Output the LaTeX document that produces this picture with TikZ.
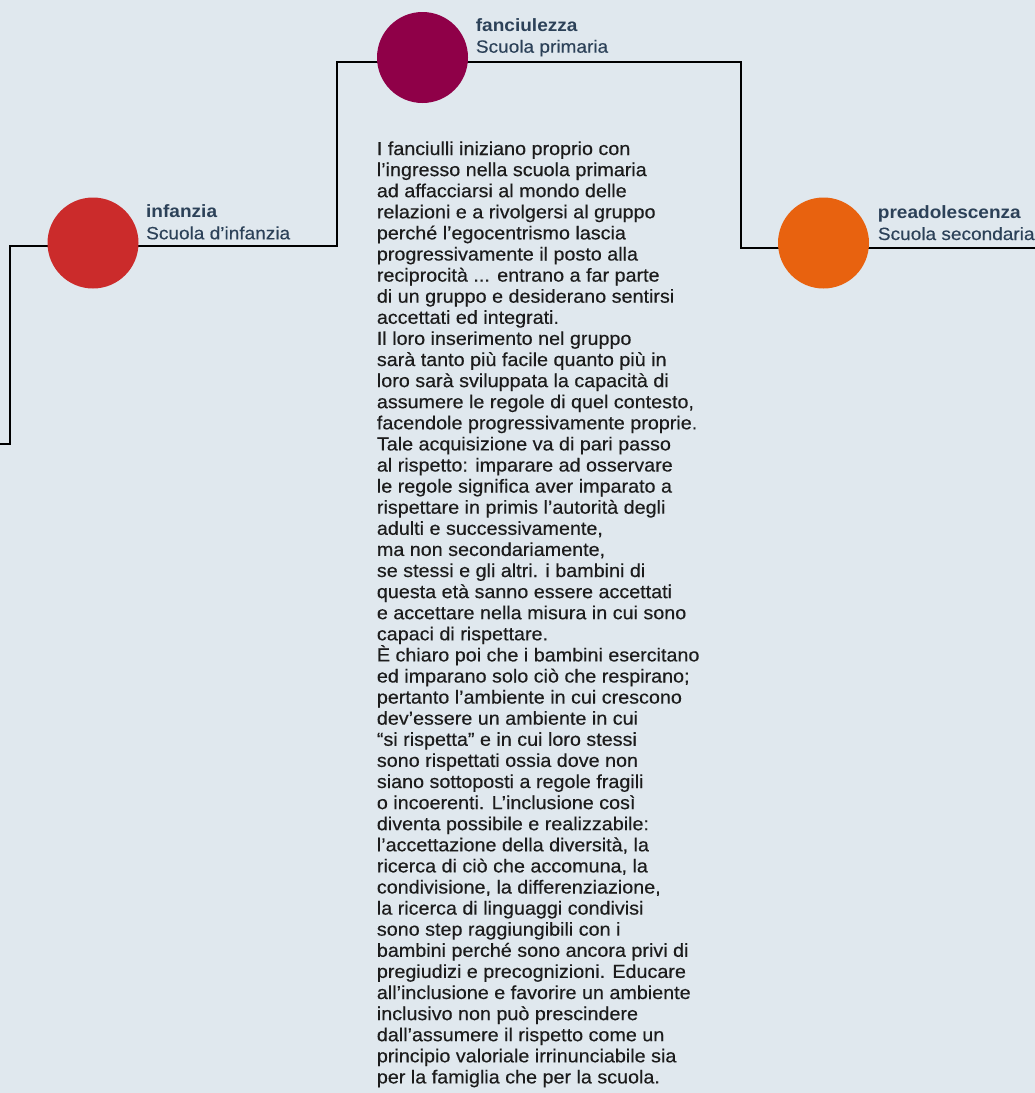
\documentclass[tikz,border=0pt]{standalone}
\usepackage{fontspec}
\setmainfont{Liberation Sans}[FakeStretch=1.05,UprightFeatures={FakeBold=0.35}]
\newfontfamily\labfont{Liberation Sans}[FakeStretch=1.07,UprightFeatures={FakeBold=0.35}]
\definecolor{bg}{HTML}{E0E8EE}
\definecolor{cred}{HTML}{CB2B2B}
\definecolor{cmag}{HTML}{8F0048}
\definecolor{corange}{HTML}{E8620F}
\definecolor{lab}{HTML}{2C4158}
\definecolor{body}{HTML}{1C1C1C}
\begin{document}
\begin{tikzpicture}[x=1pt,y=-1pt,
  conn/.style={draw=black,line width=2pt},
  dot/.style={circle,inner sep=0pt,minimum size=91pt,draw=none},
  stage/.style={anchor=base west,inner sep=0pt,align=left,text=lab,font=\labfont\fontsize{17.8}{21.5}\selectfont},
  bodytext/.style={anchor=base west,inner sep=0pt,align=left,text=body,font=\fontsize{18.8}{21.1}\selectfont}]
\fill[bg] (0,0) rectangle (1035,1093);
\useasboundingbox (0,0) rectangle (1035,1093);
% junction coordinates
\coordinate (s0) at (0,444);
\coordinate (j1) at (9.5,444);
\coordinate (j2) at (9.5,246);
\coordinate (j3) at (337,246);
\coordinate (j4) at (337,61.5);
\coordinate (j5) at (741,61.5);
\coordinate (j6) at (741,248);
\coordinate (e0) at (1035,248);
\draw[conn] (s0) -- (j1) -- (j2) -- (j3) -- (j4) -- (j5) -- (j6) -- (e0);
% circles
\node[dot,fill=cred] (c1) at (93,243) {};
\node[dot,fill=cmag] (c2) at (422.5,57.5) {};
\node[dot,fill=corange] (c3) at (823.5,243) {};
% labels (base = baseline of last line)
\node[stage] (l1) at (146,239.3) {\textbf{infanzia}\\Scuola d’infanzia};
\node[stage] (l2) at (475.7,52.7) {\textbf{fanciulezza}\\Scuola primaria};
\node[stage] (l3) at (877.7,240) {\textbf{preadolescenza}\\Scuola secondaria};
% body text
\node[bodytext] (t) at (376.7,1083.4) {I fanciulli iniziano proprio con\\
l’ingresso nella scuola primaria\\
ad affacciarsi al mondo delle\\
relazioni e a rivolgersi al gruppo\\
perché l’egocentrismo lascia\\
progressivamente il posto alla\\
reciprocità ... entrano a far parte\\
di un gruppo e desiderano sentirsi\\
accettati ed integrati.\\
Il loro inserimento nel gruppo\\
sarà tanto più facile quanto più in\\
loro sarà sviluppata la capacità di\\
assumere le regole di quel contesto,\\
facendole progressivamente proprie.\\
Tale acquisizione va di pari passo\\
al rispetto: imparare ad osservare\\
le regole significa aver imparato a\\
rispettare in primis l’autorità degli\\
adulti e successivamente,\\
ma non secondariamente,\\
se stessi e gli altri. i bambini di\\
questa età sanno essere accettati\\
e accettare nella misura in cui sono\\
capaci di rispettare.\\
È chiaro poi che i bambini esercitano\\
ed imparano solo ciò che respirano;\\
pertanto l’ambiente in cui crescono\\
dev’essere un ambiente in cui\\
“si rispetta” e in cui loro stessi\\
sono rispettati ossia dove non\\
siano sottoposti a regole fragili\\
o incoerenti. L’inclusione così\\
diventa possibile e realizzabile:\\
l’accettazione della diversità, la\\
ricerca di ciò che accomuna, la\\
condivisione, la differenziazione,\\
la ricerca di linguaggi condivisi\\
sono step raggiungibili con i\\
bambini perché sono ancora privi di\\
pregiudizi e precognizioni. Educare\\
all’inclusione e favorire un ambiente\\
inclusivo non può prescindere\\
dall’assumere il rispetto come un\\
principio valoriale irrinunciabile sia\\
per la famiglia che per la scuola.};
\end{tikzpicture}
\end{document}
